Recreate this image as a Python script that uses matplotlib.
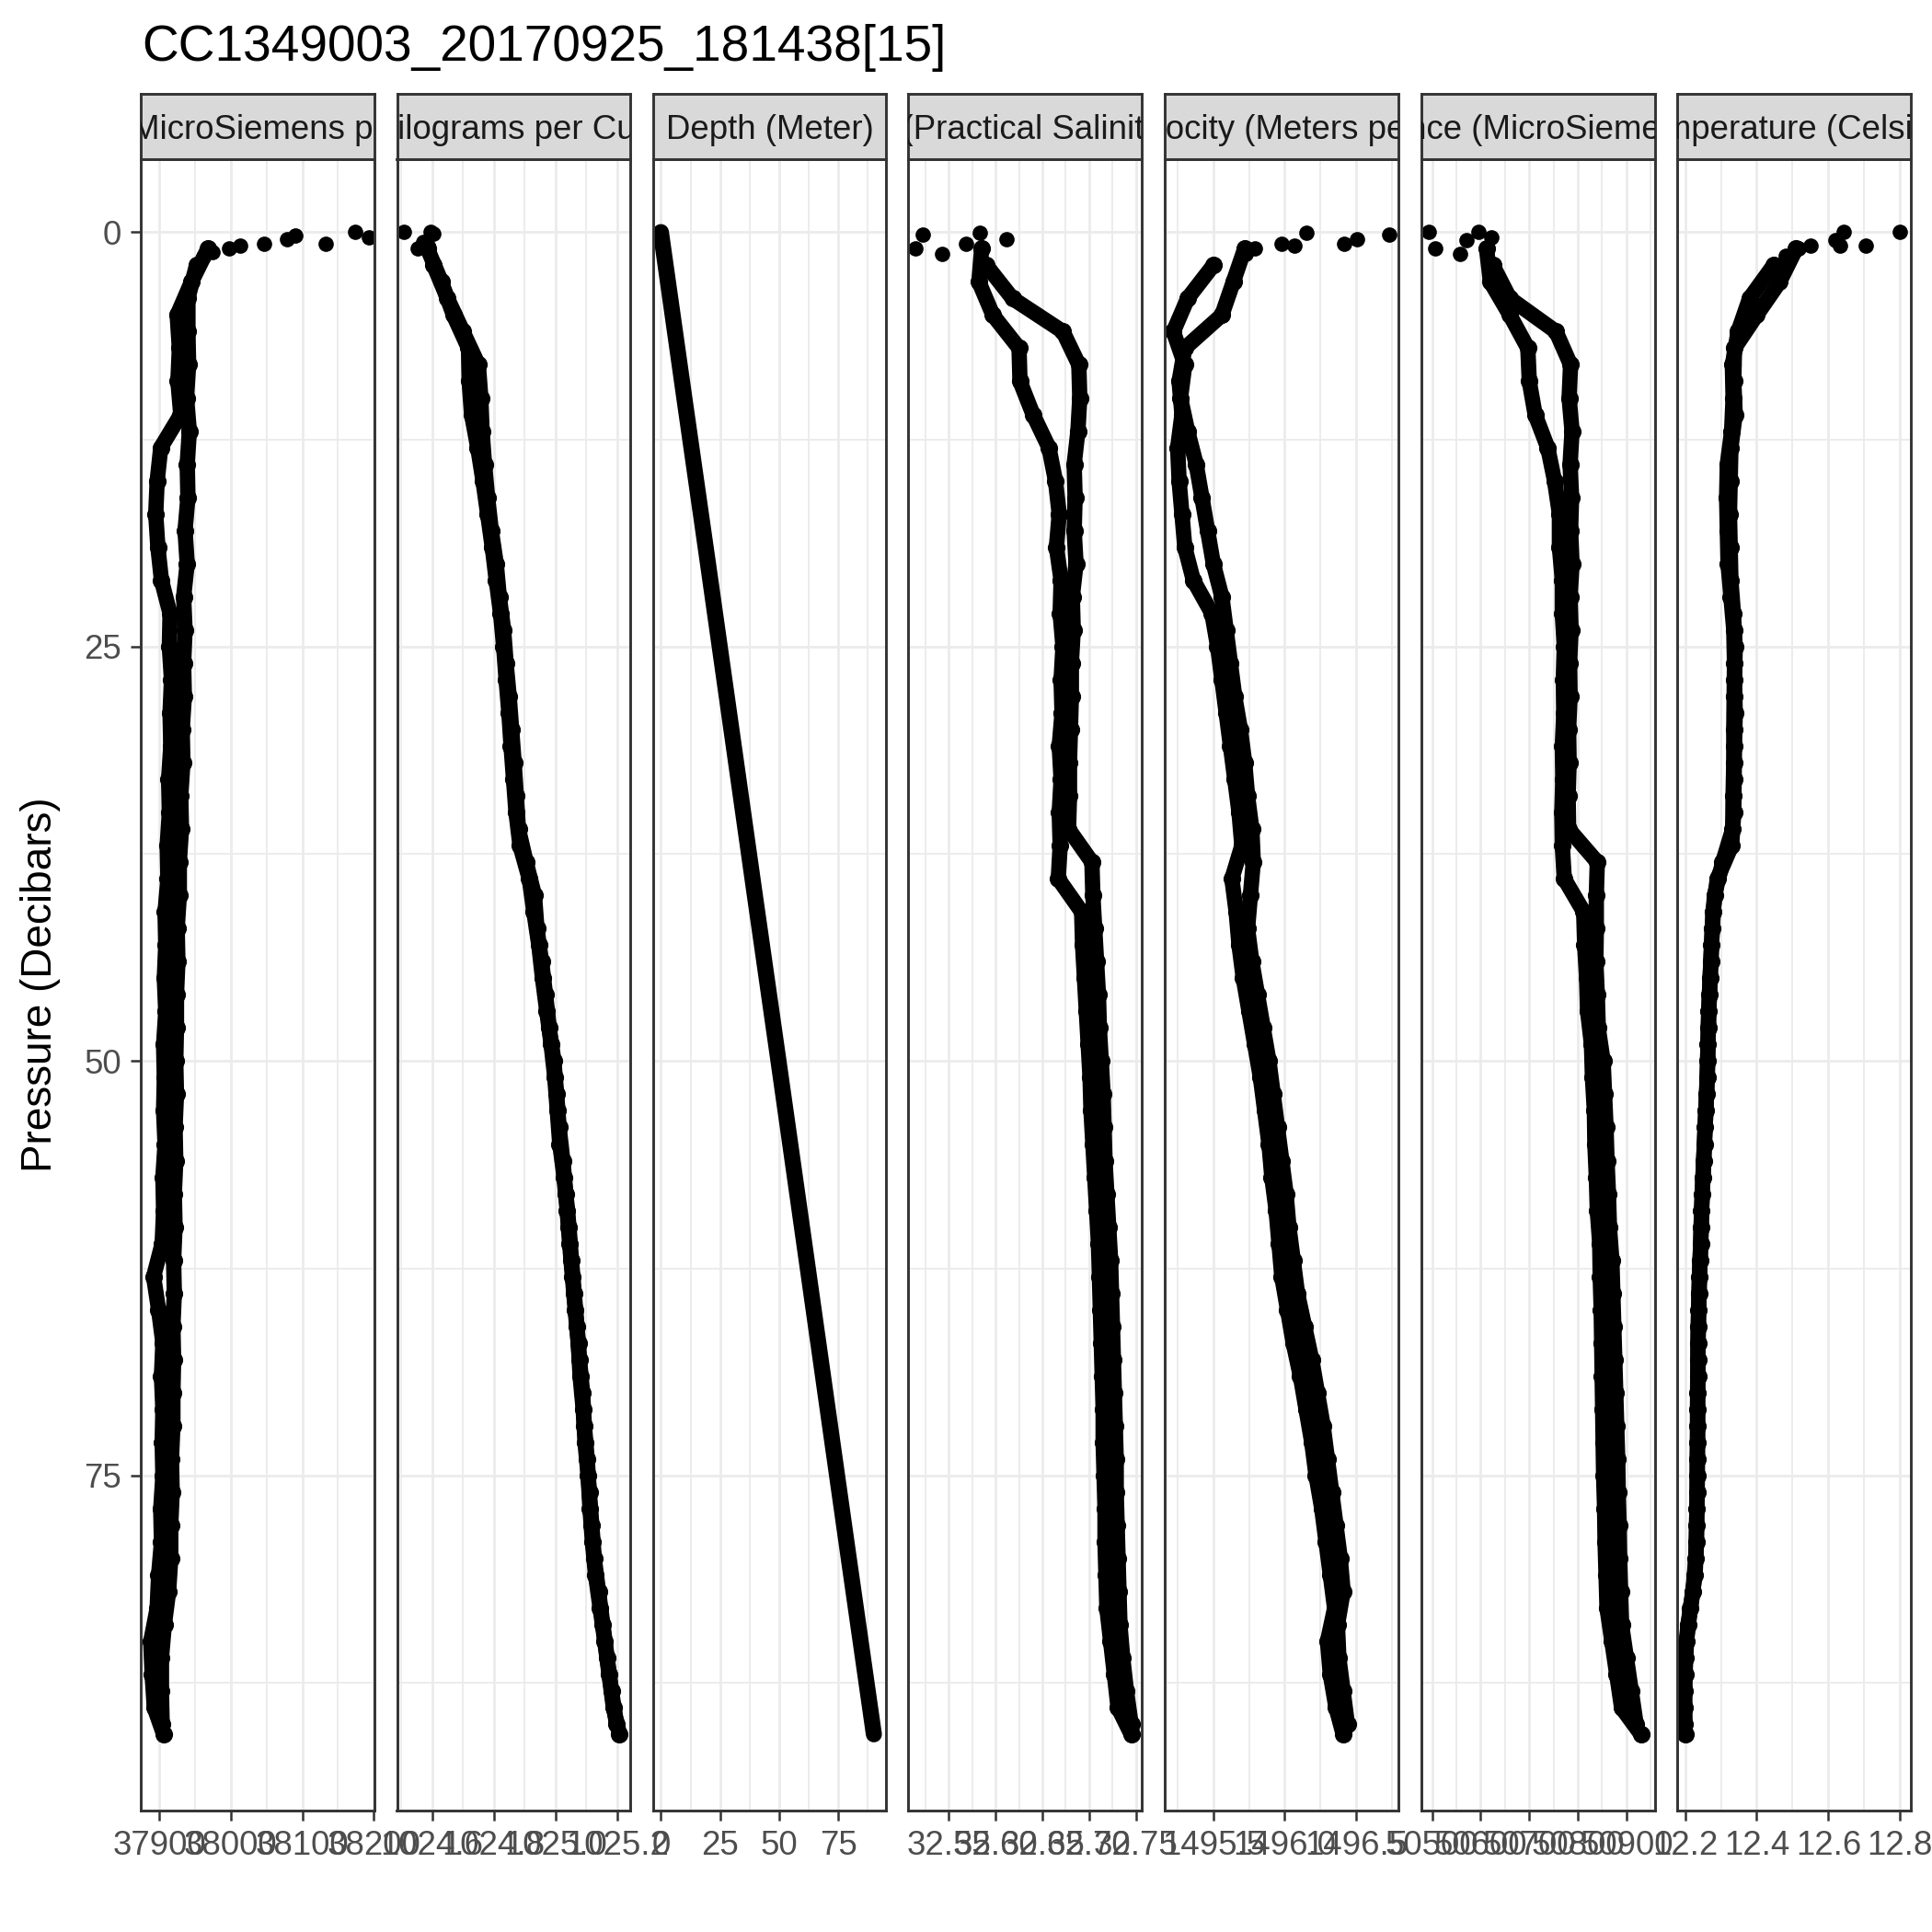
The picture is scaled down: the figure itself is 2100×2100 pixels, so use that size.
import matplotlib
matplotlib.use("Agg")
import matplotlib.pyplot as plt

plt.rcParams["font.family"] = ["Liberation Sans", "DejaVu Sans"]

title = "CC1349003_20170925_181438[15]"
y_label = "Pressure (Decibars)"

strip_labels = [
    "Conductivity (MicroSiemens per Centimeter)",
    "Density (Kilograms per Cubic Meter)",
    "Depth (Meter)",
    "Salinity (Practical Salinity Scale)",
    "Sound Velocity (Meters per Second)",
    "Specific Conductance (MicroSiemens per Centimeter)",
    "Temperature (Celsius)",
]

P_DOWN = [1, 3, 5, 7, 9, 11, 13, 15, 17, 19,
          21, 23, 25, 27, 29, 31, 33, 35, 37, 39,
          41, 43, 45, 47, 49, 51, 53, 55, 57, 59,
          61, 63, 65, 67, 69, 71, 73, 75, 77, 79,
          81, 83, 85, 87, 89, 90.6]
P_UP = [2, 4, 6, 8, 10, 12, 14, 16, 18, 20,
        22, 24, 26, 28, 30, 32, 34, 36, 38, 40,
        42, 44, 46, 48, 50, 52, 54, 56, 58, 60,
        62, 64, 66, 68, 70, 72, 74, 76, 78, 80,
        82, 84, 86, 88, 90]

# conductivity
COND_DOWN = [37968, 37945, 37925, 37928, 37926, 37930, 37902, 37897, 37895, 37898,
             37903, 37915, 37914, 37917, 37915, 37916, 37913, 37914, 37911, 37912,
             37908, 37909, 37907, 37909, 37906, 37907, 37906, 37908, 37905, 37906,
             37904, 37892, 37899, 37905, 37903, 37905, 37904, 37905, 37902, 37903,
             37899, 37897, 37888, 37890, 37893, 37906]
COND_UP = [37952, 37940, 37940, 37941, 37938, 37942, 37939, 37940, 37936, 37939,
           37934, 37936, 37934, 37935, 37932, 37933, 37930, 37931, 37928, 37928,
           37925, 37926, 37924, 37924, 37923, 37924, 37922, 37923, 37921, 37922,
           37920, 37921, 37919, 37920, 37919, 37919, 37917, 37918, 37916, 37916,
           37913, 37907, 37903, 37903, 37904]
COND_SURF_P = [0.0, 0.3, 0.7, 0.2, 0.4, 0.7, 0.8, 1.0, 1.2, 1.5]
COND_SURF = [38174, 38193, 38133, 38090, 38079, 38047, 38013, 37998, 37975, 37962]

# density
DENS_DOWN = [1024.585, 1024.630, 1024.669, 1024.718, 1024.720, 1024.728, 1024.748, 1024.765, 1024.780, 1024.795,
             1024.808, 1024.822, 1024.832, 1024.840, 1024.849, 1024.856, 1024.864, 1024.872, 1024.885, 1024.915,
             1024.930, 1024.946, 1024.958, 1024.972, 1024.986, 1024.998, 1025.006, 1025.014, 1025.028, 1025.038,
             1025.046, 1025.055, 1025.064, 1025.074, 1025.080, 1025.090, 1025.096, 1025.106, 1025.112, 1025.120,
             1025.130, 1025.145, 1025.160, 1025.174, 1025.188, 1025.208]
DENS_UP = [1024.605, 1024.650, 1024.700, 1024.750, 1024.758, 1024.762, 1024.770, 1024.780, 1024.792, 1024.808,
           1024.818, 1024.832, 1024.840, 1024.850, 1024.858, 1024.866, 1024.873, 1024.880, 1024.905, 1024.932,
           1024.940, 1024.955, 1024.968, 1024.980, 1024.995, 1025.004, 1025.012, 1025.024, 1025.034, 1025.044,
           1025.052, 1025.061, 1025.070, 1025.078, 1025.088, 1025.094, 1025.103, 1025.110, 1025.118, 1025.126,
           1025.140, 1025.154, 1025.168, 1025.182, 1025.198]
DENS_SURF_P = [0.0, 0.0, 0.1, 0.6, 1.0, 0.8]
DENS_SURF = [1024.509, 1024.595, 1024.603, 1024.570, 1024.553, 1024.585]

# depth
P_DEPTH = [0, 10, 20, 30, 40, 50, 60, 70, 80, 90.6]
DEPTH = [0.0, 9.9, 19.9, 29.8, 39.7, 49.7, 59.6, 69.5, 79.4, 90.0]

# salinity
SAL_DOWN = [32.585, 32.582, 32.597, 32.625, 32.626, 32.640, 32.657, 32.664, 32.668, 32.665,
            32.670, 32.669, 32.672, 32.670, 32.671, 32.668, 32.670, 32.668, 32.669, 32.667,
            32.692, 32.693, 32.695, 32.697, 32.699, 32.701, 32.702, 32.704, 32.706, 32.708,
            32.710, 32.711, 32.712, 32.713, 32.714, 32.715, 32.715, 32.716, 32.717, 32.717,
            32.718, 32.719, 32.723, 32.727, 32.731, 32.745]
SAL_UP = [32.590, 32.618, 32.672, 32.689, 32.690, 32.688, 32.684, 32.685, 32.684, 32.686,
          32.682, 32.683, 32.681, 32.681, 32.680, 32.679, 32.679, 32.678, 32.703, 32.704,
          32.706, 32.708, 32.710, 32.711, 32.713, 32.715, 32.716, 32.717, 32.719, 32.721,
          32.723, 32.724, 32.725, 32.726, 32.727, 32.728, 32.729, 32.729, 32.730, 32.731,
          32.732, 32.733, 32.736, 32.740, 32.745]
SAL_SURF_P = [0.05, 0.15, 1.0, 1.3, 0.4, 0.7]
SAL_SURF = [32.583, 32.522, 32.514, 32.543, 32.612, 32.568]

# sound velocity
SV_DOWN = [1495.72, 1495.64, 1495.56, 1495.30, 1495.26, 1495.28, 1495.25, 1495.26, 1495.28, 1495.30,
           1495.36, 1495.49, 1495.53, 1495.56, 1495.59, 1495.62, 1495.65, 1495.68, 1495.70, 1495.63,
           1495.66, 1495.68, 1495.71, 1495.75, 1495.79, 1495.83, 1495.86, 1495.89, 1495.91, 1495.94,
           1495.96, 1495.98, 1496.02, 1496.06, 1496.11, 1496.15, 1496.19, 1496.22, 1496.26, 1496.29,
           1496.32, 1496.35, 1496.30, 1496.32, 1496.36, 1496.41]
SV_UP = [1495.50, 1495.32, 1495.22, 1495.30, 1495.27, 1495.32, 1495.38, 1495.42, 1495.46, 1495.50,
         1495.56, 1495.59, 1495.62, 1495.65, 1495.69, 1495.72, 1495.74, 1495.77, 1495.78, 1495.76,
         1495.74, 1495.77, 1495.81, 1495.85, 1495.89, 1495.92, 1495.95, 1495.98, 1496.01, 1496.03,
         1496.06, 1496.09, 1496.14, 1496.19, 1496.23, 1496.27, 1496.30, 1496.33, 1496.36, 1496.39,
         1496.41, 1496.37, 1496.38, 1496.41, 1496.44]
SV_SURF_P = [0.15, 0.4, 0.7, 0.05, 0.8, 0.7, 1.0, 1.3]
SV_SURF = [1496.73, 1496.51, 1496.42, 1496.15, 1496.07, 1495.98, 1495.79, 1495.73]

# specific conductance
SC_DOWN = [50612, 50620, 50660, 50697, 50700, 50712, 50738, 50752, 50762, 50762,
           50768, 50768, 50772, 50770, 50771, 50768, 50769, 50767, 50768, 50772,
           50812, 50814, 50818, 50820, 50828, 50830, 50834, 50835, 50838, 50840,
           50845, 50846, 50848, 50849, 50850, 50851, 50852, 50853, 50855, 50856,
           50858, 50860, 50870, 50880, 50890, 50930]
SC_UP = [50625, 50660, 50755, 50785, 50782, 50788, 50784, 50787, 50785, 50788,
         50784, 50786, 50783, 50784, 50781, 50782, 50780, 50781, 50840, 50838,
         50838, 50837, 50840, 50842, 50852, 50855, 50858, 50860, 50863, 50865,
         50870, 50872, 50874, 50876, 50878, 50880, 50882, 50883, 50885, 50886,
         50888, 50890, 50900, 50910, 50920]
SC_SURF_P = [0.0, 1.0, 1.3, 0.5, 0.0, 0.3]
SC_SURF = [50494, 50506, 50557, 50570, 50595, 50621]

# temperature
TEMP_DOWN = [12.510, 12.464, 12.400, 12.338, 12.336, 12.340, 12.328, 12.326, 12.324, 12.326,
             12.328, 12.335, 12.340, 12.338, 12.340, 12.338, 12.337, 12.336, 12.330, 12.290,
             12.278, 12.274, 12.270, 12.266, 12.264, 12.262, 12.258, 12.254, 12.250, 12.246,
             12.244, 12.240, 12.238, 12.236, 12.236, 12.235, 12.235, 12.234, 12.233, 12.232,
             12.228, 12.215, 12.204, 12.200, 12.199, 12.200]
TEMP_UP = [12.447, 12.380, 12.348, 12.332, 12.334, 12.330, 12.318, 12.316, 12.318, 12.320,
           12.328, 12.336, 12.338, 12.337, 12.336, 12.336, 12.334, 12.333, 12.305, 12.282,
           12.276, 12.272, 12.268, 12.265, 12.263, 12.260, 12.256, 12.252, 12.248, 12.245,
           12.242, 12.239, 12.237, 12.236, 12.235, 12.235, 12.234, 12.234, 12.232, 12.230,
           12.222, 12.208, 12.200, 12.198, 12.199]
TEMP_SURF_P = [0.0, 0.0, 0.5, 0.8, 0.8, 0.8, 1.0, 1.4]
TEMP_SURF = [12.80, 12.643, 12.62, 12.705, 12.633, 12.55, 12.516, 12.48]

x_ticks = [
    [37900, 38000, 38100, 38200],
    [1024.6, 1024.8, 1025.0, 1025.2],
    [0, 25, 50, 75],
    [32.55, 32.60, 32.65, 32.70, 32.75],
    [1495.5, 1496.0, 1496.5],
    [50500, 50600, 50700, 50800, 50900],
    [12.2, 12.4, 12.6, 12.8],
]
x_tick_labels = [
    ["37900", "38000", "38100", "38200"],
    ["1024.6", "1024.8", "1025.0", "1025.2"],
    ["0", "25", "50", "75"],
    ["32.55", "32.60", "32.65", "32.70", "32.75"],
    ["1495.5", "1496.0", "1496.5"],
    ["50500", "50600", "50700", "50800", "50900"],
    ["12.2", "12.4", "12.6", "12.8"],
]
x_limits = [
    (37873.8, 38200.6),
    (1024.486, 1025.244),
    (-3.45, 95.3),
    (32.5062, 32.7563),
    (1495.158, 1496.796),
    (50477, 50958),
    (12.177, 12.829),
]

panels = [
    (COND_DOWN, COND_UP, COND_SURF_P, COND_SURF),
    (DENS_DOWN, DENS_UP, DENS_SURF_P, DENS_SURF),
    None,
    (SAL_DOWN, SAL_UP, SAL_SURF_P, SAL_SURF),
    (SV_DOWN, SV_UP, SV_SURF_P, SV_SURF),
    (SC_DOWN, SC_UP, SC_SURF_P, SC_SURF),
    (TEMP_DOWN, TEMP_UP, TEMP_SURF_P, TEMP_SURF),
]

W = H = 2100
lefts = [152.8, 431.5, 709.5, 987.0, 1265.8, 1544.5, 1822.6]
pw = 254.0
top, bottom = 173.0, 1968.0
strip_top = 102.0

grey20 = "#333333"
grey30 = "#4D4D4D"
grid_col = "#EBEBEB"
dot = 4.0

fig = plt.figure(figsize=(7, 7), dpi=300)

for i, left in enumerate(lefts):
    ax = fig.add_axes([left / W, 1 - bottom / H, pw / W, (bottom - top) / H])
    ax.set_axisbelow(True)

    if panels[i] is None:
        ax.plot(DEPTH, P_DEPTH, color="black", lw=dot + 0.2, solid_capstyle="round")
    else:
        down, up, sp, sv = panels[i]
        for p, v in ((P_DOWN, down), (P_UP, up)):
            ax.plot(v, p, color="black", lw=dot, marker="o", ms=dot + 0.6, mew=0,
                    solid_joinstyle="round", solid_capstyle="round")
        ax.plot(sv, sp, "o", color="black", ms=dot, mew=0)

    ax.set_xlim(*x_limits[i])
    ax.set_ylim(95.2, -4.4)

    ticks = x_ticks[i]
    ax.set_xticks(ticks, x_tick_labels[i])
    step = ticks[1] - ticks[0]
    minors = [t - step / 2 for t in ticks] + [ticks[-1] + step / 2]
    lo, hi = x_limits[i]
    ax.set_xticks([m for m in minors if lo <= m <= hi], minor=True)
    ax.set_yticks([0, 25, 50, 75])
    ax.set_yticks([12.5, 37.5, 62.5, 87.5], minor=True)

    ax.grid(which="major", color=grid_col, lw=0.65)
    ax.grid(which="minor", color=grid_col, lw=0.45)
    ax.tick_params(which="minor", length=0)
    ax.tick_params(which="major", length=2.75, width=0.6, color=grey20,
                   labelcolor=grey30, labelsize=8.8, pad=2.2)
    if i > 0:
        ax.tick_params(axis="y", left=False, labelleft=False)
    for s in ax.spines.values():
        s.set_color(grey20)
        s.set_linewidth(0.7)

    sax = fig.add_axes([left / W, 1 - top / H, pw / W, (top - strip_top) / H])
    sax.set_facecolor("#D9D9D9")
    sax.set_xticks([])
    sax.set_yticks([])
    for s in sax.spines.values():
        s.set_color(grey20)
        s.set_linewidth(0.7)
    t = sax.text(0.5, 0.44, strip_labels[i], ha="center", va="center",
                 transform=sax.transAxes, fontsize=8.8, color="#1A1A1A")
    t.set_clip_on(True)
    t.set_clip_box(sax.bbox)

fig.text(154 / W, 1 - 66 / H, title, fontsize=13.2, ha="left", va="baseline")
fig.text(44 / W, 1 - (top + bottom) / 2 / H, y_label, fontsize=11,
         rotation=90, ha="center", va="center")

fig.savefig("out.png", dpi=300)
